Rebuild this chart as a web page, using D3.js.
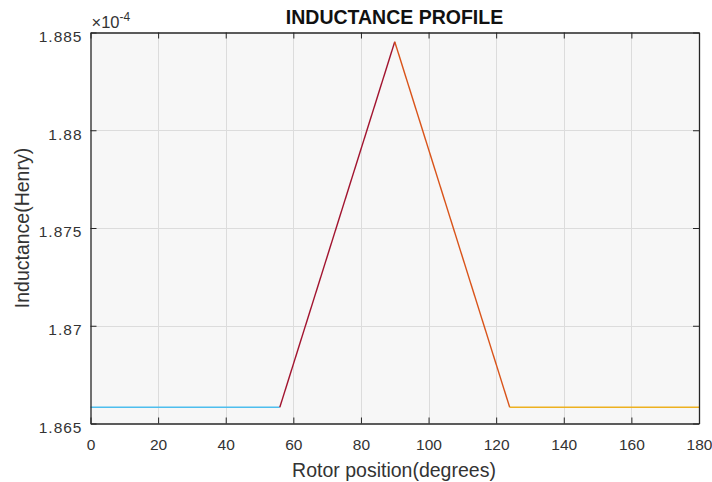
<!DOCTYPE html>
<html>
<head>
<meta charset="utf-8">
<script src="https://cdn.jsdelivr.net/npm/d3@7"></script>
<style>
  html, body { margin: 0; padding: 0; background: #ffffff; }
  svg { display: block; }
  text { font-family: "Liberation Sans", Arial, Helvetica, sans-serif; }
</style>
</head>
<body>
<svg id="chart" width="712" height="482"></svg>
<script>
// Inductance profile over one rotor period, in Henry
const segments = [
  { name: "unaligned-low", color: "#4DBEEE", pts: [[0, 1.86583e-4], [56, 1.86583e-4]] },
  { name: "rising",        color: "#A2142F", pts: [[56, 1.86583e-4], [90, 1.88453e-4]] },
  { name: "falling",       color: "#D95319", pts: [[90, 1.88453e-4], [124, 1.86583e-4]] },
  { name: "unaligned-end", color: "#EDB120", pts: [[124, 1.86583e-4], [180, 1.86583e-4]] }
];
const xTicks = [0, 20, 40, 60, 80, 100, 120, 140, 160, 180];
const yTicks = [1.865e-4, 1.870e-4, 1.875e-4, 1.880e-4, 1.885e-4];
const yExponent = -4;

const svg = d3.select("#chart");
const m = { left: 90.5, top: 32.5, right: 699, bottom: 423.5 };
const w = m.right - m.left, h = m.bottom - m.top;

const x = d3.scaleLinear().domain([0, 180]).range([m.left, m.right]);
const y = d3.scaleLinear().domain([1.865e-4, 1.885e-4]).range([m.bottom, m.top]);
const scaleExp = Math.pow(10, yExponent);
const fmtY = v => String(+(v / scaleExp).toFixed(4));

// axes background
svg.append("rect").attr("x", m.left).attr("y", m.top).attr("width", w).attr("height", h)
  .attr("fill", "#f7f7f7");

// grid
const grid = svg.append("g").attr("stroke", "#dcdcdc").attr("stroke-width", 1);
xTicks.slice(1, -1).forEach(t => grid.append("line")
  .attr("x1", Math.round(x(t)) + 0.5).attr("x2", Math.round(x(t)) + 0.5)
  .attr("y1", m.top).attr("y2", m.bottom));
yTicks.slice(1, -1).forEach(t => grid.append("line")
  .attr("y1", Math.round(y(t)) + 0.5).attr("y2", Math.round(y(t)) + 0.5)
  .attr("x1", m.left).attr("x2", m.right));

// data lines
const line = d3.line().x(d => x(d[0])).y(d => y(d[1]));
svg.append("g").selectAll("path").data(segments).join("path")
  .attr("d", d => line(d.pts))
  .attr("fill", "none")
  .attr("stroke", d => d.color)
  .attr("stroke-width", 1.4);

// axes (inward ticks, boxed)
const axColor = "#262626";
const bottomAxis = d3.axisBottom(x).tickValues(xTicks).tickSize(-6).tickPadding(15).tickFormat(d3.format("d"));
const topAxis = d3.axisTop(x).tickValues(xTicks).tickSize(-6).tickFormat("");
const leftAxis = d3.axisLeft(y).tickValues(yTicks).tickSize(-6).tickPadding(8).tickFormat(fmtY);
const rightAxis = d3.axisRight(y).tickValues(yTicks).tickSize(-6).tickFormat("");

function style(g) {
  g.selectAll(".domain").attr("stroke", axColor).attr("stroke-width", 1.3);
  g.selectAll(".tick line").attr("stroke", axColor);
  g.selectAll(".tick text").attr("fill", "#333").style("font-size", "15.5px")
    .style("font-family", "'Liberation Sans', Arial, sans-serif");
}
svg.append("g").attr("transform", `translate(0,${m.bottom})`).call(bottomAxis.tickSizeOuter(0)).call(style);
svg.append("g").attr("transform", `translate(0,${m.top})`).call(topAxis.tickSizeOuter(0)).call(style);
svg.append("g").attr("transform", `translate(${m.left},0)`).call(leftAxis.tickSizeOuter(0)).call(style)
  .selectAll(".tick text").attr("y", 4).style("letter-spacing", "1px");
svg.append("g").attr("transform", `translate(${m.right},0)`).call(rightAxis.tickSizeOuter(0)).call(style);

// exponent label
const ex = svg.append("text").attr("x", m.left + 1).attr("y", 28).attr("fill", "#333")
  .style("font-size", "16.5px");
ex.append("tspan").text("\u00d710");
ex.append("tspan").attr("dy", -7).style("font-size", "12px").text(String(yExponent));

// title and labels
svg.append("text").attr("x", 394.5).attr("y", 24).attr("text-anchor", "middle")
  .attr("fill", "#111").style("font-size", "19.5px").style("font-weight", "bold")
  .text("INDUCTANCE PROFILE");
svg.append("text").attr("x", 394).attr("y", 477).attr("text-anchor", "middle")
  .attr("fill", "#333").style("font-size", "19.5px").text("Rotor position(degrees)");
svg.append("text").attr("transform", `translate(28.5,${(m.top + m.bottom) / 2}) rotate(-90)`)
  .attr("text-anchor", "middle").attr("fill", "#333").style("font-size", "19.5px")
  .text("Inductance(Henry)");
</script>
</body>
</html>
